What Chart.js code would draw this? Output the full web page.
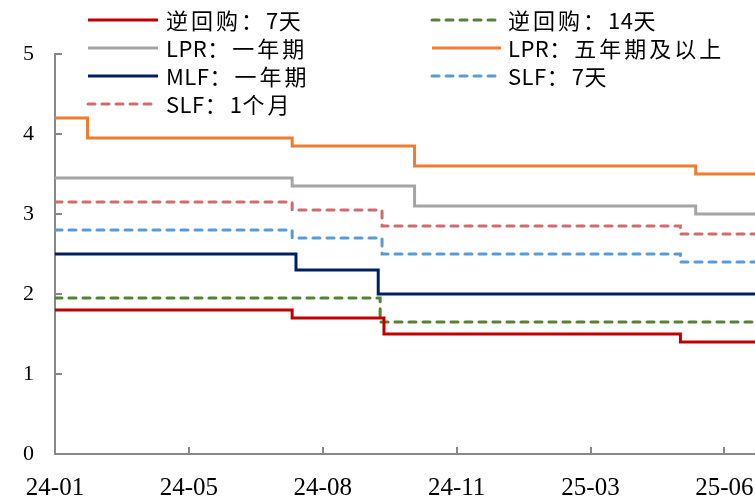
<!DOCTYPE html>
<html>
<head>
<meta charset="utf-8">
<script src="https://cdn.jsdelivr.net/npm/chart.js@4/dist/chart.umd.min.js"></script>
<style>
  html, body { margin: 0; padding: 0; background: #fff; }
  #wrap { width: 755px; height: 496px; }
</style>
</head>
<body>
<div id="wrap"><canvas id="rateChart" width="755" height="496"></canvas></div>
<script>
// x positions are day indexes; a label every 70 days
const tickLabels = ["24-01", "24-05", "24-08", "24-11", "25-03", "25-06"];
const tickStep = 70;
const lastDay = 366;

// each series: day index where a rate starts, and the rate (last pair = end of chart)
const repo7Days = [0, 124, 172, 327, 366];
const repo7Rates = [1.8, 1.7, 1.5, 1.4, 1.4];
const repo14Days = [0, 170, 366];
const repo14Rates = [1.95, 1.65, 1.65];
const lpr1Days = [0, 124, 188, 335, 366];
const lpr1Rates = [3.45, 3.35, 3.1, 3.0, 3.0];
const lpr5Days = [0, 17, 124, 188, 335, 366];
const lpr5Rates = [4.2, 3.95, 3.85, 3.6, 3.5, 3.5];
const mlfDays = [0, 126, 169, 366];
const mlfRates = [2.5, 2.3, 2.0, 2.0];
const slf7Days = [0, 124, 171, 327, 366];
const slf7Rates = [2.8, 2.7, 2.5, 2.4, 2.4];
const slf1mDays = [0, 124, 171, 327, 366];
const slf1mRates = [3.15, 3.05, 2.85, 2.75, 2.75];

const toPoints = (days, rates) => days.map((d, i) => ({ x: d, y: rates[i] }));

const series = [
  { label: "逆回购：7天", days: repo7Days, rates: repo7Rates, color: "#C00000", dash: [] },
  { label: "逆回购：14天", days: repo14Days, rates: repo14Rates, color: "#548235", dash: [7, 7] },
  { label: "LPR：一年期", days: lpr1Days, rates: lpr1Rates, color: "#A5A5A5", dash: [] },
  { label: "LPR：五年期及以上", days: lpr5Days, rates: lpr5Rates, color: "#ED7D31", dash: [] },
  { label: "MLF：一年期", days: mlfDays, rates: mlfRates, color: "#002060", dash: [] },
  { label: "SLF：7天", days: slf7Days, rates: slf7Rates, color: "#5B9BD5", dash: [7, 7] },
  { label: "SLF：1个月", days: slf1mDays, rates: slf1mRates, color: "#D06C6C", dash: [7, 7] },
];

const axisColor = "#888888";

// legend in two columns, drawn over the top of the plot like the original
const legendPlugin = {
  id: "twoColLegend",
  afterDraw(chart) {
    const ctx = chart.ctx;
    const cols = [{ x0: 88, x1: 158, tx: 166 }, { x0: 432, x1: 501, tx: 508 }];
    const rowY = [20, 48, 76, 104];
    ctx.save();
    chart.data.datasets.forEach((ds, i) => {
      const col = cols[i % 2];
      const y = rowY[Math.floor(i / 2)];
      ctx.strokeStyle = ds.borderColor;
      ctx.lineWidth = 3;
      ctx.lineCap = ds.borderDash.length ? "round" : "butt";
      ctx.setLineDash(ds.borderDash);
      ctx.beginPath();
      ctx.moveTo(col.x0, y);
      ctx.lineTo(col.x1, y);
      ctx.stroke();
      ctx.setLineDash([]);
      ctx.fillStyle = "#000";
      ctx.font = "22px 'Noto Sans CJK SC', sans-serif";
      ctx.textBaseline = "middle";
      ctx.textAlign = "left";
      // CJK glyphs sit on a wider pitch than the latin ones
      let x = col.tx;
      for (const ch of ds.label) {
        ctx.fillText(ch, x, y + 1);
        x += ch.charCodeAt(0) > 0x2e80 ? 25 : ctx.measureText(ch).width + 0.5;
      }
    });
    ctx.restore();
  },
};

// short tick marks pointing into the plot
const innerTicks = {
  id: "innerTicks",
  afterDatasetsDraw(chart) {
    const { ctx, scales } = chart;
    const xs = scales.x, ys = scales.y;
    ctx.save();
    ctx.strokeStyle = axisColor;
    ctx.lineWidth = 2;
    ys.ticks.forEach((t) => {
      const py = Math.round(ys.getPixelForValue(t.value));
      ctx.beginPath();
      ctx.moveTo(xs.left, py);
      ctx.lineTo(xs.left + 7, py);
      ctx.stroke();
    });
    xs.ticks.forEach((t) => {
      if (t.value === 0) return;
      const px = Math.round(xs.getPixelForValue(t.value));
      ctx.beginPath();
      ctx.moveTo(px, ys.bottom);
      ctx.lineTo(px, ys.bottom - 7);
      ctx.stroke();
    });
    ctx.restore();
  },
};

new Chart(document.getElementById("rateChart"), {
  type: "line",
  data: {
    datasets: series.map((s) => ({
      label: s.label,
      data: toPoints(s.days, s.rates),
      borderColor: s.color,
      borderDash: s.dash,
      borderCapStyle: s.dash.length ? "round" : "butt",
      borderWidth: 3,
      stepped: "before",
      pointRadius: 0,
      fill: false,
    })),
  },
  options: {
    responsive: false,
    animation: false,
    layout: { padding: { top: 54, right: 0, left: 0, bottom: 0 } },
    plugins: { legend: { display: false }, tooltip: { enabled: false } },
    scales: {
      x: {
        type: "linear",
        min: 0,
        max: lastDay,
        afterBuildTicks: (scale) => {
          scale.ticks = tickLabels.map((_, i) => ({ value: i * tickStep }));
        },
        afterFit: (scale) => { scale.height = 42; scale.paddingRight = 0; },
        ticks: {
          autoSkip: false,
          maxRotation: 0,
          padding: 19,
          color: "#000",
          font: { family: "'Liberation Serif', 'Times New Roman', serif", size: 25 },
          callback: (v) => tickLabels[Math.round(v / tickStep)] ?? "",
        },
        grid: { display: false, drawTicks: false },
        border: { display: true, color: axisColor, width: 2 },
      },
      y: {
        min: 0,
        max: 5,
        afterFit: (scale) => { scale.width = 55; },
        ticks: {
          stepSize: 1,
          padding: 21,
          color: "#000",
          font: { family: "'Liberation Serif', 'Times New Roman', serif", size: 22 },
        },
        grid: { display: false, drawTicks: false },
        border: { display: true, color: axisColor, width: 2 },
      },
    },
  },
  plugins: [innerTicks, legendPlugin],
});
</script>
</body>
</html>
